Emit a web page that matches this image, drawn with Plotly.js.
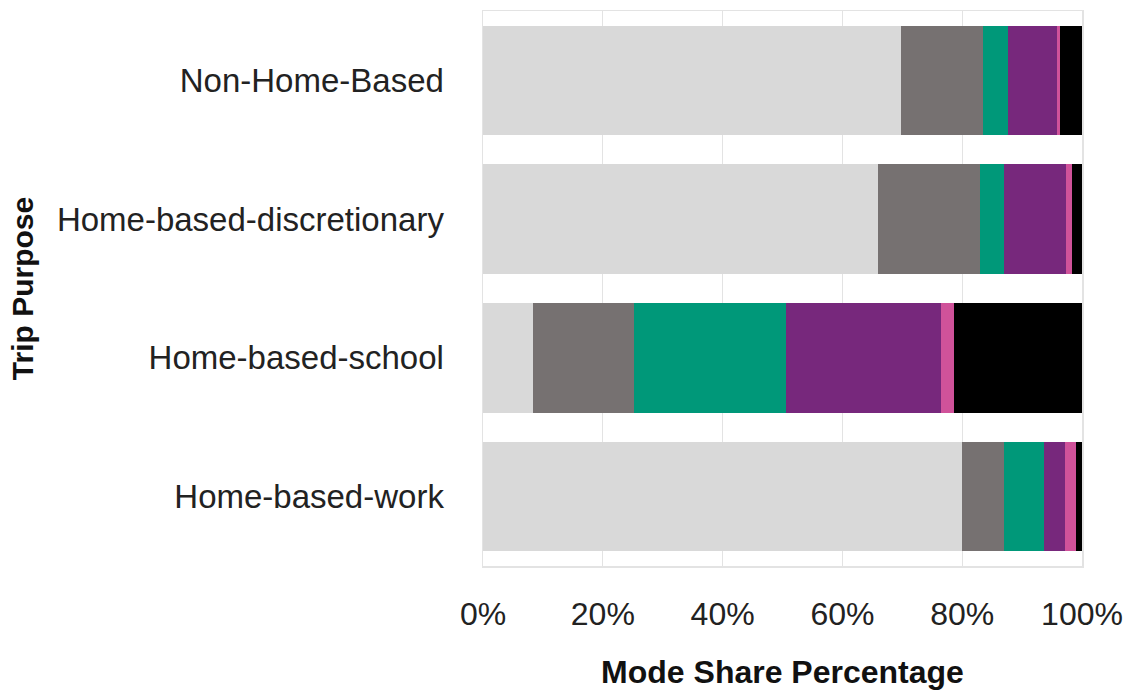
<!DOCTYPE html>
<html>
<head>
<meta charset="utf-8">
<script src="https://cdn.plot.ly/plotly-3.0.1.min.js"></script>
<style>html,body{margin:0;padding:0;background:#fff;}#chart{width:1126px;height:690px;}</style>
</head>
<body>
<div id="chart"></div>
<script>
const purposes = ["Home-based-work", "Home-based-school", "Home-based-discretionary", "Non-Home-Based"];
const modes = ["Drive alone", "Shared ride", "Walk", "Bike / other", "Transit", "School bus"];
const driveAlone = [79.9, 8.4, 66.0, 69.8];
const sharedRide = [7.1, 16.8, 16.9, 13.7];
const walk = [6.7, 25.3, 4.0, 4.2];
const bikeOther = [3.5, 26.0, 10.4, 8.1];
const transit = [1.8, 2.1, 1.1, 0.6];
const schoolBus = [1.0, 21.4, 1.6, 3.6];
const seriesValues = [driveAlone, sharedRide, walk, bikeOther, transit, schoolBus];
const colors = ["#d9d9d9", "#767171", "#009879", "#77287c", "#d0529a", "#000000"];
const xTicks = [0, 20, 40, 60, 80, 100];

const traces = modes.map((m, i) => ({
  type: "bar",
  orientation: "h",
  name: m,
  y: purposes,
  x: seriesValues[i],
  marker: {color: colors[i], line: {width: 0}},
  hovertemplate: "%{y}<br>" + m + ": %{x}%<extra></extra>"
}));

const font = "Liberation Sans, Arial, Helvetica, sans-serif";
const layout = {
  width: 1126, height: 690,
  barmode: "stack",
  bargap: 0.21,
  showlegend: false,
  paper_bgcolor: "#ffffff",
  plot_bgcolor: "#ffffff",
  margin: {l: 483, r: 44, t: 11, b: 124},
  font: {family: font, color: "#222222"},
  xaxis: {
    range: [0, 100],
    tickvals: xTicks,
    ticktext: xTicks.map(v => v + "%"),
    showgrid: true, gridcolor: "#e3e3e3", gridwidth: 1.2,
    showline: true, linecolor: "#e3e3e3", linewidth: 1.5, mirror: true,
    zeroline: false,
    ticks: "",
    ticklabelstandoff: 19,
    tickfont: {size: 32, family: font, color: "#222"},
    title: {text: "<b>Mode Share Percentage</b>", font: {size: 32, family: font, color: "#111"}, standoff: 34}
  },
  yaxis: {
    categoryorder: "array", categoryarray: purposes,
    showgrid: false,
    showline: true, linecolor: "#e3e3e3", linewidth: 1.5, mirror: true,
    ticks: "",
    ticklabelstandoff: 31,
    tickfont: {size: 33, family: font, color: "#222"},
    title: {text: "<b>Trip Purpose</b>", font: {size: 30, family: font, color: "#111"}, standoff: 14}
  }
};

Plotly.newPlot("chart", traces, layout, {displayModeBar: false, staticPlot: true});
</script>
</body>
</html>
